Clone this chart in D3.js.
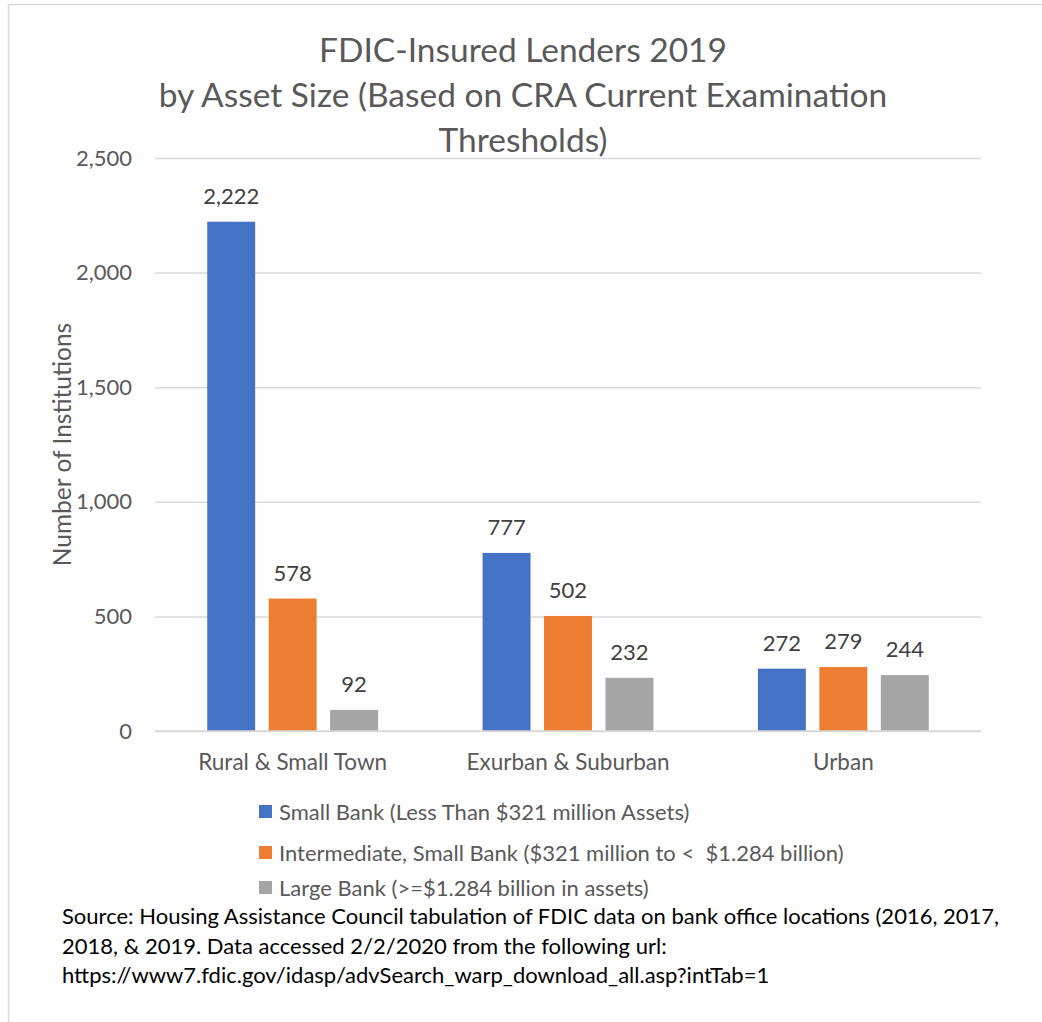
<!DOCTYPE html>
<html>
<head>
<meta charset="utf-8">
<script src="https://cdn.jsdelivr.net/npm/d3@7"></script>
<style>
  html, body { margin: 0; padding: 0; background: #fff; }
  svg { display: block; }
  text { font-family: Lato, "Open Sans", sans-serif; }
</style>
</head>
<body>
<svg id="chart" width="1042" height="1022"></svg>
<script>
const titleLines = ["FDIC-Insured Lenders 2019", "by Asset Size (Based on CRA Current Examination", "Thresholds)"];
const categories = ["Rural & Small Town", "Exurban & Suburban", "Urban"];
const seriesNames = [
  "Small Bank (Less Than $321 million Assets)",
  "Intermediate, Small Bank ($321 million to <  $1.284 billion)",
  "Large Bank (>=$1.284 billion in assets)"
];
const smallBank = [2222, 777, 272];
const intermediateBank = [578, 502, 279];
const largeBank = [92, 232, 244];
const yTicks = [0, 500, 1000, 1500, 2000, 2500];
const yLabel = "Number of Institutions";
const sourceLines = [
  "Source: Housing Assistance Council tabulation of FDIC data on bank office locations (2016, 2017,",
  "2018, & 2019. Data accessed 2/2/2020 from the following url:",
  "https://www7.fdic.gov/idasp/advSearch_warp_download_all.asp?intTab=1"
];
const colors = ["#4472C4", "#ED7D31", "#A5A5A5"];

const series = [smallBank, intermediateBank, largeBank];
const svg = d3.select("#chart");

// outer border
svg.append("path")
  .attr("d", "M8.5,1022 L8.5,4.5 L1042,4.5")
  .attr("fill", "none").attr("stroke", "#d9d9d9").attr("stroke-width", 1.5);

const plot = { left: 155, right: 981, top: 158, bottom: 731 };
const x0 = d3.scaleBand().domain(categories).range([plot.left, plot.right]).paddingInner(0).paddingOuter(0);
const x1 = d3.scaleBand().domain(d3.range(series.length)).range([0, x0.bandwidth()]).paddingInner(0.22).paddingOuter(0.85);
const y = d3.scaleLinear().domain([0, 2500]).range([plot.bottom, plot.top]);

// title
svg.append("g").selectAll("text").data(titleLines).join("text")
  .attr("x", 523).attr("y", (d, i) => 62 + i * 45)
  .attr("text-anchor", "middle").attr("font-size", 33.5).attr("fill", "#595959")
  .text(d => d);

// gridlines
const yAxis = d3.axisLeft(y).tickValues(yTicks).tickSize(-(plot.right - plot.left)).tickFormat(d3.format(","));
const gy = svg.append("g").attr("transform", `translate(${plot.left},0)`).call(yAxis);
gy.select(".domain").remove();
gy.selectAll(".tick line").attr("stroke", "#d9d9d9").attr("stroke-width", 1.5);
gy.selectAll(".tick text").attr("x", -23).attr("font-size", 22).attr("fill", "#595959").attr("font-family", "Lato, sans-serif");

// y label
svg.append("text")
  .attr("transform", `translate(71,${(plot.top + plot.bottom) / 2}) rotate(-90)`)
  .attr("text-anchor", "middle").attr("font-size", 24.5).attr("fill", "#595959")
  .text(yLabel);

// bars
const groups = svg.append("g").selectAll("g").data(categories).join("g")
  .attr("transform", d => `translate(${x0(d)},0)`);
groups.each(function(cat, ci) {
  const g = d3.select(this);
  series.forEach((s, si) => {
    g.append("rect")
      .attr("x", x1(si)).attr("width", x1.bandwidth())
      .attr("y", y(s[ci])).attr("height", y(0) - y(s[ci]))
      .attr("fill", colors[si]);
    g.append("text")
      .attr("x", x1(si) + x1.bandwidth() / 2).attr("y", y(s[ci]) - 18)
      .attr("text-anchor", "middle").attr("font-size", 22).attr("fill", "#404040")
      .text(d3.format(",")(s[ci]));
  });
});

// baseline
svg.append("line").attr("x1", plot.left).attr("x2", plot.right)
  .attr("y1", y(0)).attr("y2", y(0)).attr("stroke", "#d9d9d9").attr("stroke-width", 1.5);

// category labels
svg.append("g").selectAll("text").data(categories).join("text")
  .attr("x", d => x0(d) + x0.bandwidth() / 2).attr("y", 770)
  .attr("text-anchor", "middle").attr("font-size", 22.5).attr("fill", "#595959")
  .text(d => d);

// legend
const legY = [812, 853, 888];
const leg = svg.append("g").selectAll("g").data(seriesNames).join("g")
  .attr("transform", (d, i) => `translate(259,${legY[i]})`);
leg.append("rect").attr("x", 0).attr("y", -7).attr("width", 13).attr("height", 13)
  .attr("fill", (d, i) => colors[i]);
leg.append("text").attr("x", 20).attr("y", 8).attr("font-size", 22).attr("fill", "#595959")
  .attr("xml:space", "preserve").style("white-space", "pre")
  .text(d => d);

// source
svg.append("g").selectAll("text").data(sourceLines).join("text")
  .attr("x", 62).attr("y", (d, i) => 924 + i * 29.5)
  .attr("font-size", 22).attr("fill", "#000")
  .text(d => d);
</script>
</body>
</html>
